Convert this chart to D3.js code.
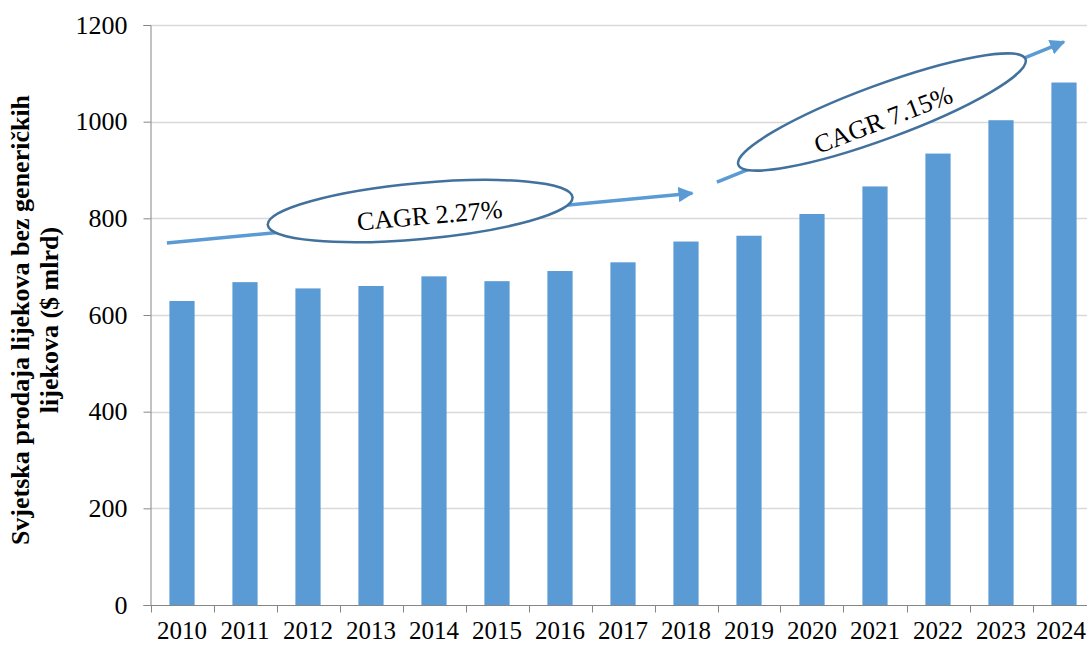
<!DOCTYPE html>
<html>
<head>
<meta charset="utf-8">
<script src="https://cdn.jsdelivr.net/npm/d3@7"></script>
<style>
  body { margin: 0; background: #fff; }
  svg { display: block; }
</style>
</head>
<body>
<div id="chart"></div>
<script>
var years = ["2010","2011","2012","2013","2014","2015","2016","2017","2018","2019","2020","2021","2022","2023","2024"];
var sales = [629, 668, 655, 660, 680, 670, 691, 709, 752, 764, 809, 866, 934, 1003, 1081];
var yTicks = [0, 200, 400, 600, 800, 1000, 1200];
var titleLines = ["Svjetska prodaja lijekova bez generičkih", "lijekova ($ mlrd)"];
// CAGR callouts, positions in (year index, value) units
var cagrLabels = ["CAGR 2.27%", "CAGR 7.15%"];
var arrowFrom = [[0.26, 749], [8.99, 875]];
var arrowTo = [[8.6, 852], [14.5, 1165]];
var ovalCenter = [[4.28, 815], [11.61, 1020]];
var labelCenter = [[4.43, 807], [11.63, 1005]];

var width = 1087, height = 646;
var barColor = "#5B9BD5", ovalColor = "#41719C";
var font = "'Liberation Serif', 'Times New Roman', serif";

var svg = d3.select("#chart").append("svg")
    .attr("width", width)
    .attr("height", height);

var x = d3.scaleBand().domain(years).range([150.5, 1095.5]).paddingInner(0.6).paddingOuter(0.3);
var xPos = d3.scaleLinear().domain([0, years.length]).range([150.5, 1095.5]);
var y = d3.scaleLinear().domain([0, 1200]).range([605, 25]);

// gridlines
svg.append("g").selectAll("line").data(yTicks.slice(1)).enter().append("line")
    .attr("x1", 150.5).attr("x2", width)
    .attr("y1", function(d) { return Math.round(y(d)) + 0.5; })
    .attr("y2", function(d) { return Math.round(y(d)) + 0.5; })
    .attr("stroke", "#d9d9d9").attr("stroke-width", 1.3);

// bars
svg.append("g").selectAll("rect").data(sales).enter().append("rect")
    .attr("x", function(d, i) { return x(years[i]); })
    .attr("y", function(d) { return y(d); })
    .attr("width", x.bandwidth())
    .attr("height", function(d) { return y(0) - y(d); })
    .attr("fill", barColor);

// y axis
var yAxis = svg.append("g").attr("transform", "translate(150.5,0)")
    .call(d3.axisLeft(y).tickValues(yTicks).tickFormat(d3.format("d")).tickSize(7).tickPadding(16));
yAxis.select(".domain").attr("stroke", "#868686");
yAxis.selectAll(".tick line").attr("stroke", "#868686");
yAxis.selectAll("text")
    .attr("font-family", font).attr("font-size", "26px").attr("fill", "#000");

// x axis: ticks on band boundaries
var xAxisG = svg.append("g").attr("transform", "translate(0,605.5)");
xAxisG.append("line").attr("x1", 150.5).attr("x2", width).attr("stroke", "#868686");
xAxisG.selectAll(".xtick").data(d3.range(years.length)).enter().append("line")
    .attr("class", "xtick")
    .attr("x1", function(i) { return Math.round(xPos(i)) + 0.5; })
    .attr("x2", function(i) { return Math.round(xPos(i)) + 0.5; })
    .attr("y1", 0).attr("y2", 7)
    .attr("stroke", "#868686");
xAxisG.selectAll("text").data(years).enter().append("text")
    .attr("x", function(d) { return x(d) + x.bandwidth() / 2; })
    .attr("y", 33.5)
    .attr("text-anchor", "middle")
    .attr("font-family", font).attr("font-size", "25px")
    .text(function(d) { return d; })
    .each(function() {
      // keep the last label inside the picture
      var half = this.getComputedTextLength() / 2;
      var cx = +this.getAttribute("x");
      if (cx + half > width - 1) this.setAttribute("x", width - 1 - half);
    });

// y axis title
var title = svg.append("text")
    .attr("transform", "translate(29,320) rotate(-90)")
    .attr("text-anchor", "middle")
    .attr("font-family", font).attr("font-size", "26px").attr("font-weight", "bold");
title.selectAll("tspan").data(titleLines).enter().append("tspan")
    .attr("x", 0)
    .attr("dy", function(d, i) { return i ? 29 : 0; })
    .text(function(d) { return d; });

// arrows
var defs = svg.append("defs");
defs.append("marker")
    .attr("id", "head")
    .attr("viewBox", "0 0 10 10")
    .attr("refX", 9).attr("refY", 5)
    .attr("markerWidth", 4.4).attr("markerHeight", 4.4)
    .attr("markerUnits", "strokeWidth")
    .attr("orient", "auto")
  .append("path")
    .attr("d", "M0,0L10,5L0,10z")
    .attr("fill", barColor);

svg.append("g").selectAll("line").data(arrowFrom).enter().append("line")
    .attr("x1", function(d) { return xPos(d[0]); })
    .attr("y1", function(d) { return y(d[1]); })
    .attr("x2", function(d, i) { return xPos(arrowTo[i][0]); })
    .attr("y2", function(d, i) { return y(arrowTo[i][1]); })
    .attr("stroke", barColor).attr("stroke-width", 3.5)
    .attr("marker-end", "url(#head)");

// ovals with labels
var ovalAngle = [-5.2, -20.2];
var ovalR = [[153, 28], [153, 27]];
var textAngle = [-5, -21];
var ovals = svg.append("g").selectAll("g").data(ovalCenter).enter().append("g");
ovals.append("ellipse")
    .attr("transform", function(d, i) {
      return "translate(" + xPos(d[0]) + "," + y(d[1]) + ") rotate(" + ovalAngle[i] + ")";
    })
    .attr("rx", function(d, i) { return ovalR[i][0]; })
    .attr("ry", function(d, i) { return ovalR[i][1]; })
    .attr("fill", "#fff")
    .attr("stroke", ovalColor).attr("stroke-width", 2.5);
ovals.append("text")
    .attr("transform", function(d, i) {
      var c = labelCenter[i];
      return "translate(" + xPos(c[0]) + "," + y(c[1]) + ") rotate(" + textAngle[i] + ")";
    })
    .attr("text-anchor", "middle")
    .attr("dy", "0.35em")
    .attr("font-family", font).attr("font-size", "26px")
    .text(function(d, i) { return cagrLabels[i]; });
</script>
</body>
</html>
